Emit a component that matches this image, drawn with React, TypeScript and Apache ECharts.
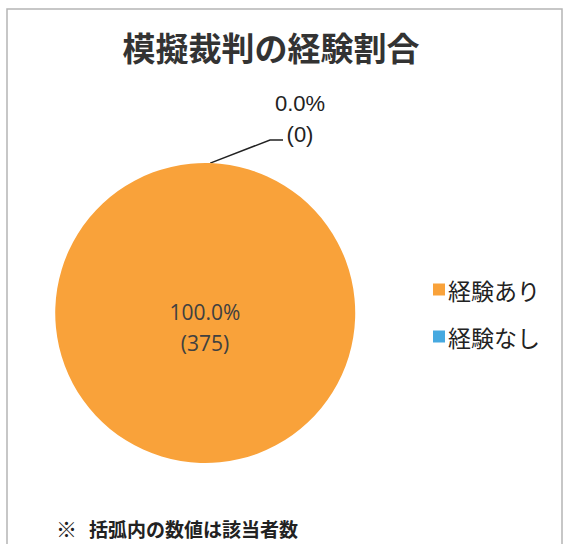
import React, { useEffect, useRef } from "react";
import * as echarts from "echarts";

const TITLE = "模擬裁判の経験割合";
const categories = ["経験あり", "経験なし"];
const counts = [375, 0];
const colors = ["#F9A23A", "#46A9E0"];
const NOTE_MARK = "※";
const NOTE = "括弧内の数値は該当者数";

export default function App() {
  const ref = useRef<HTMLDivElement>(null);
  useEffect(() => {
    if (!ref.current) return;
    const chart = echarts.init(ref.current, null, { renderer: "svg" });
    const data = categories.map((name, i) => ({
      name,
      value: counts[i],
      itemStyle: { color: colors[i] },
      label:
        i === 0
          ? {
              position: "center" as const,
              offset: [0, 14],
              color: "#404040",
              fontFamily: "Open Sans",
              fontSize: 21,
            }
          : {
              position: "outside" as const,
              color: "#222",
              fontFamily: "Liberation Sans",
              fontSize: 22,
            },
    }));
    chart.setOption({
      animation: false,
      backgroundColor: "#ffffff",
      title: {
        text: TITLE,
        left: 266,
        top: 25,
        textAlign: "center",
        textStyle: {
          fontFamily: "Noto Sans CJK JP",
          fontSize: 33,
          fontWeight: "bold",
          color: "#333",
        },
      },
      legend: {
        orient: "vertical",
        left: 428,
        top: 273,
        itemWidth: 12,
        itemHeight: 12,
        itemGap: 24,
        icon: "rect",
        textStyle: {
          fontFamily: "Noto Sans CJK JP",
          fontSize: 23,
          lineHeight: 23,
          color: "#222",
          padding: [0, 0, 0, -2],
        },
        data: categories,
      },
      graphic: [
        {
          type: "rect",
          shape: { x: 7, y: 9, width: 555, height: 545 },
          style: { fill: "none", stroke: "#b5b5b5", lineWidth: 1.5 },
          silent: true,
        },
        {
          type: "text",
          x: 56,
          y: 528,
          style: {
            text: NOTE_MARK,
            fontFamily: "Noto Sans CJK JP",
            fontSize: 21,
            fontWeight: "bold",
            fill: "#222",
            verticalAlign: "middle",
          },
        },
        {
          type: "text",
          x: 89,
          y: 528,
          style: {
            text: NOTE,
            fontFamily: "Noto Sans CJK JP",
            fontSize: 19,
            fontWeight: "bold",
            fill: "#222",
            verticalAlign: "middle",
          },
        },
      ],
      series: [
        {
          type: "pie",
          center: [205, 313],
          radius: 150,
          startAngle: 88,
          clockwise: true,
          stillShowZeroSum: true,
          avoidLabelOverlap: false,
          label: {
            show: true,
            lineHeight: 31,
            formatter: (p: any) => `${p.percent.toFixed(1)}%\n(${p.value})`,
          },
          labelLine: {
            show: true,
            length: 15,
            length2: 12,
            lineStyle: { color: "#222", width: 1.5 },
          },
          labelLayout: (params: any) => {
            if (params.dataIndex !== 1) return {};
            const p0 = params.labelLinePoints ? params.labelLinePoints[0] : [205, 163];
            return {
              x: 300,
              y: 119,
              align: "center",
              verticalAlign: "middle",
              labelLinePoints: [p0, [270, 140], [283, 140]],
            };
          },
          emphasis: { disabled: true },
          data,
        },
      ],
    });
    return () => chart.dispose();
  }, []);
  return (
    <div
      ref={ref}
      style={{ position: "absolute", left: 0, top: 0, width: 566, height: 544 }}
    />
  );
}
